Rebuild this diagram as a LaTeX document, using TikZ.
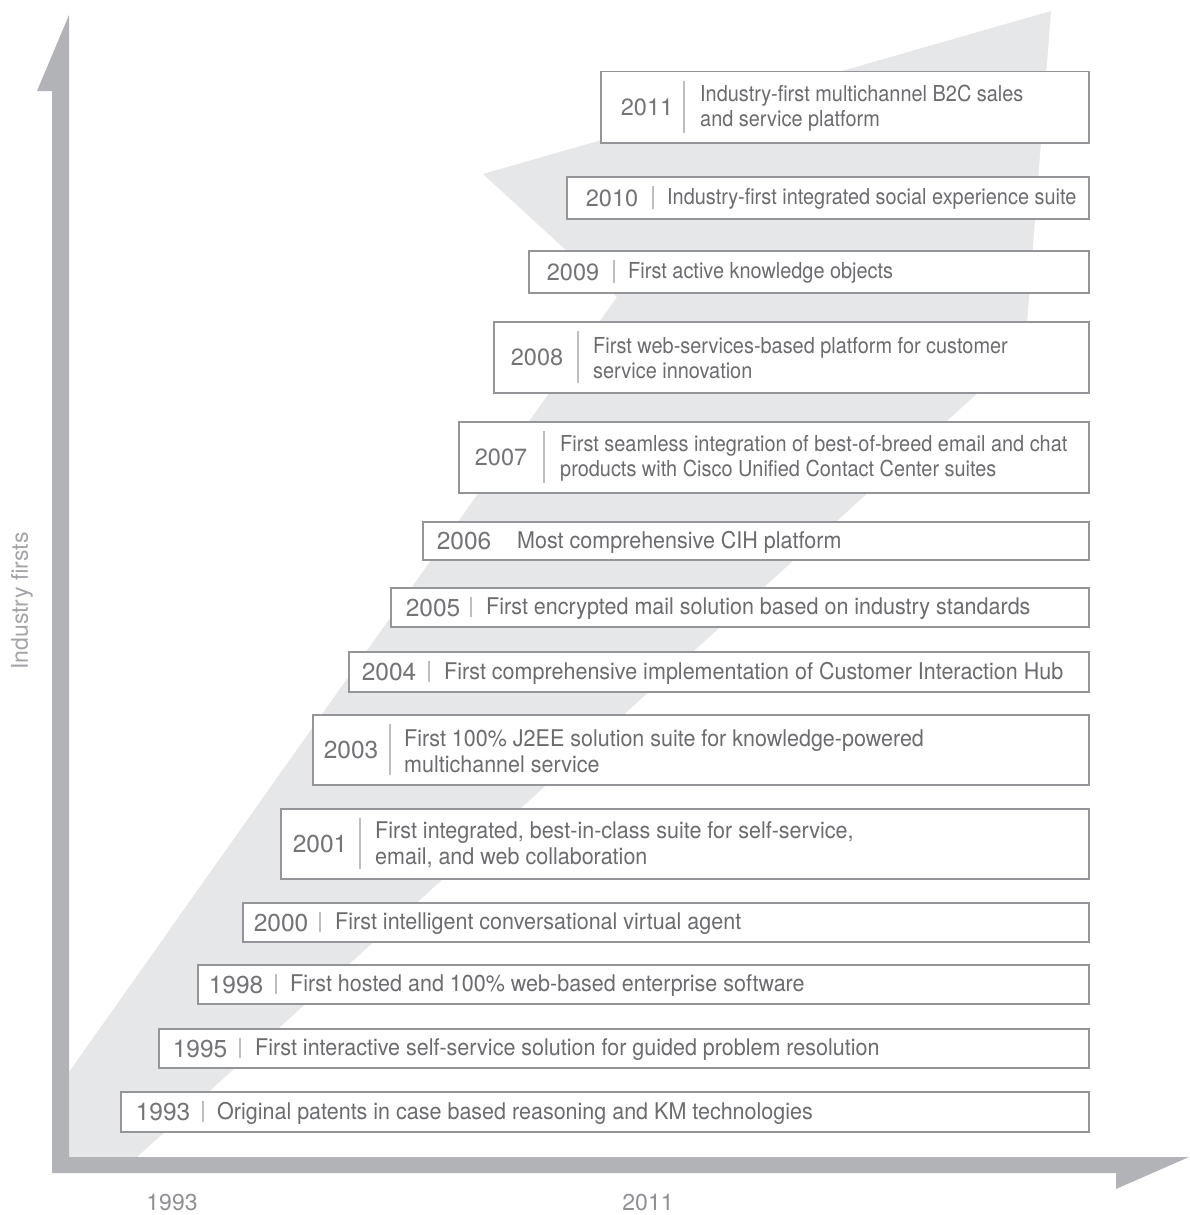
\documentclass[tikz,border=0pt]{standalone}
\usepackage{fontspec}
\setmainfont{TeX Gyre Heros}
\newfontfamily\descfontA[FakeStretch=0.905]{TeX Gyre Heros}
\newfontfamily\descfontB[FakeStretch=0.935]{TeX Gyre Heros}
\definecolor{axisgrey}{HTML}{B1B3B6}
\definecolor{bandgrey}{HTML}{E6E7E8}
\definecolor{boxgrey}{HTML}{939598}
\definecolor{sepgrey}{HTML}{BCBEC0}
\definecolor{txtgrey}{HTML}{6B6C6F}
\definecolor{yeargrey}{HTML}{737477}
\definecolor{lblgrey}{HTML}{A2A4A7}
\definecolor{xlblgrey}{HTML}{8E9093}
\tikzset{
  boxst/.style={draw=boxgrey, line width=1.5pt, fill=white, inner sep=0pt, anchor=north west},
  yearst/.style={text=yeargrey, inner sep=0pt},
  yearup/.style={yearst, font=\fontsize{23.5}{26}\selectfont},
  yearlow/.style={yearst, font=\fontsize{24.5}{27}\selectfont},
  descst/.style={text=txtgrey, inner sep=0pt, anchor=west, align=left},
  descup/.style={descst, font=\descfontA\fontsize{22}{25}\selectfont},
  desclow/.style={descst, font=\descfontB\fontsize{23}{26}\selectfont},
  sepst/.style={draw=sepgrey, line width=2pt},
  axlbl/.style={text=lblgrey, inner sep=0pt, font=\fontsize{23}{26}\selectfont}
}
% #1 name, #2 left, #3 top, #4 bottom, #5 year centre x, #6 separator x, #7 text x, #8 up/low, #9 text
\newcommand\tlentry[9]{%
  \node[boxst, minimum width={(1088-#2)*1pt}, minimum height={(#4-#3)*1pt}] (b#1) at (#2,#3) {};
  \node[year#8] (y#1) at (#5,{(#3+#4)/2+1}) {#1};
  \coordinate (st#1) at (#6,#3+10);
  \coordinate (sb#1) at (#6,#4-9);
  \draw[sepst] (st#1) -- (sb#1);
  \node[desc#8] (t#1) at (#7,{(#3+#4)/2+2}) {#9};
}
\begin{document}
\begin{tikzpicture}[x=1pt,y=-1pt]
\useasboundingbox (0,0) rectangle (1189,1215);
% light rising band
\fill[bandgrey] (69,1157) -- (137,1157) -- (1025,350) -- (1051,11) -- (483,174) -- (617,297) -- (69,1072) -- cycle;
% axes
\fill[axisgrey] (37,91) -- (69,15) -- (69,1157) -- (1189,1157) -- (1116,1189) -- (1116,1173) -- (52,1173) -- (52,91) -- cycle;
\node[axlbl, rotate=90] (ylab) at (22,601) {Industry firsts};
\node[axlbl, text=xlblgrey] (x1993) at (172,1203) {1993};
\node[axlbl, text=xlblgrey] (x2011) at (648,1203) {2011};
% entries
\tlentry{2011}{600}{71}{142}{647}{684}{700}{up}{Industry-first multichannel B2C sales\\and service platform}
\tlentry{2010}{566}{176}{218}{612}{653}{667}{up}{Industry-first integrated social experience suite}
\tlentry{2009}{528}{250}{292}{573}{614}{628}{up}{First active knowledge objects}
\tlentry{2008}{493}{321}{392}{537}{578}{593}{up}{First web-services-based platform for customer\\service innovation}
\tlentry{2007}{458}{421}{492}{501}{544}{560}{up}{First seamless integration of best-of-breed email and chat\\products with Cisco Unified Contact Center suites}
\node[boxst, minimum width=666pt, minimum height=38pt] (b2006) at (422,521) {};
\node[yearlow] (y2006) at (464,541) {2006};
\node[desclow] (t2006) at (517,542) {Most comprehensive CIH platform};
\tlentry{2005}{390}{587}{626}{433}{471}{486}{low}{First encrypted mail solution based on industry standards}
\tlentry{2004}{348}{651}{691}{389}{429}{444}{low}{First comprehensive implementation of Customer Interaction Hub}
\tlentry{2003}{312}{714}{784}{351}{390}{404}{low}{First 100\% J2EE solution suite for knowledge-powered\\multichannel service}
\tlentry{2001}{280}{808}{878}{320}{360}{375}{low}{First integrated, best-in-class suite for self-service,\\email, and web collaboration}
\tlentry{2000}{242}{902}{941}{281}{320}{335}{low}{First intelligent conversational virtual agent}
\tlentry{1998}{197}{964}{1003}{236}{276}{290}{low}{First hosted and 100\% web-based enterprise software}
\tlentry{1995}{158}{1028}{1067}{200}{240}{255}{low}{First interactive self-service solution for guided problem resolution}
\tlentry{1993}{120}{1091}{1131}{163}{203}{217}{low}{Original patents in case based reasoning and KM technologies}
\end{tikzpicture}
\end{document}
